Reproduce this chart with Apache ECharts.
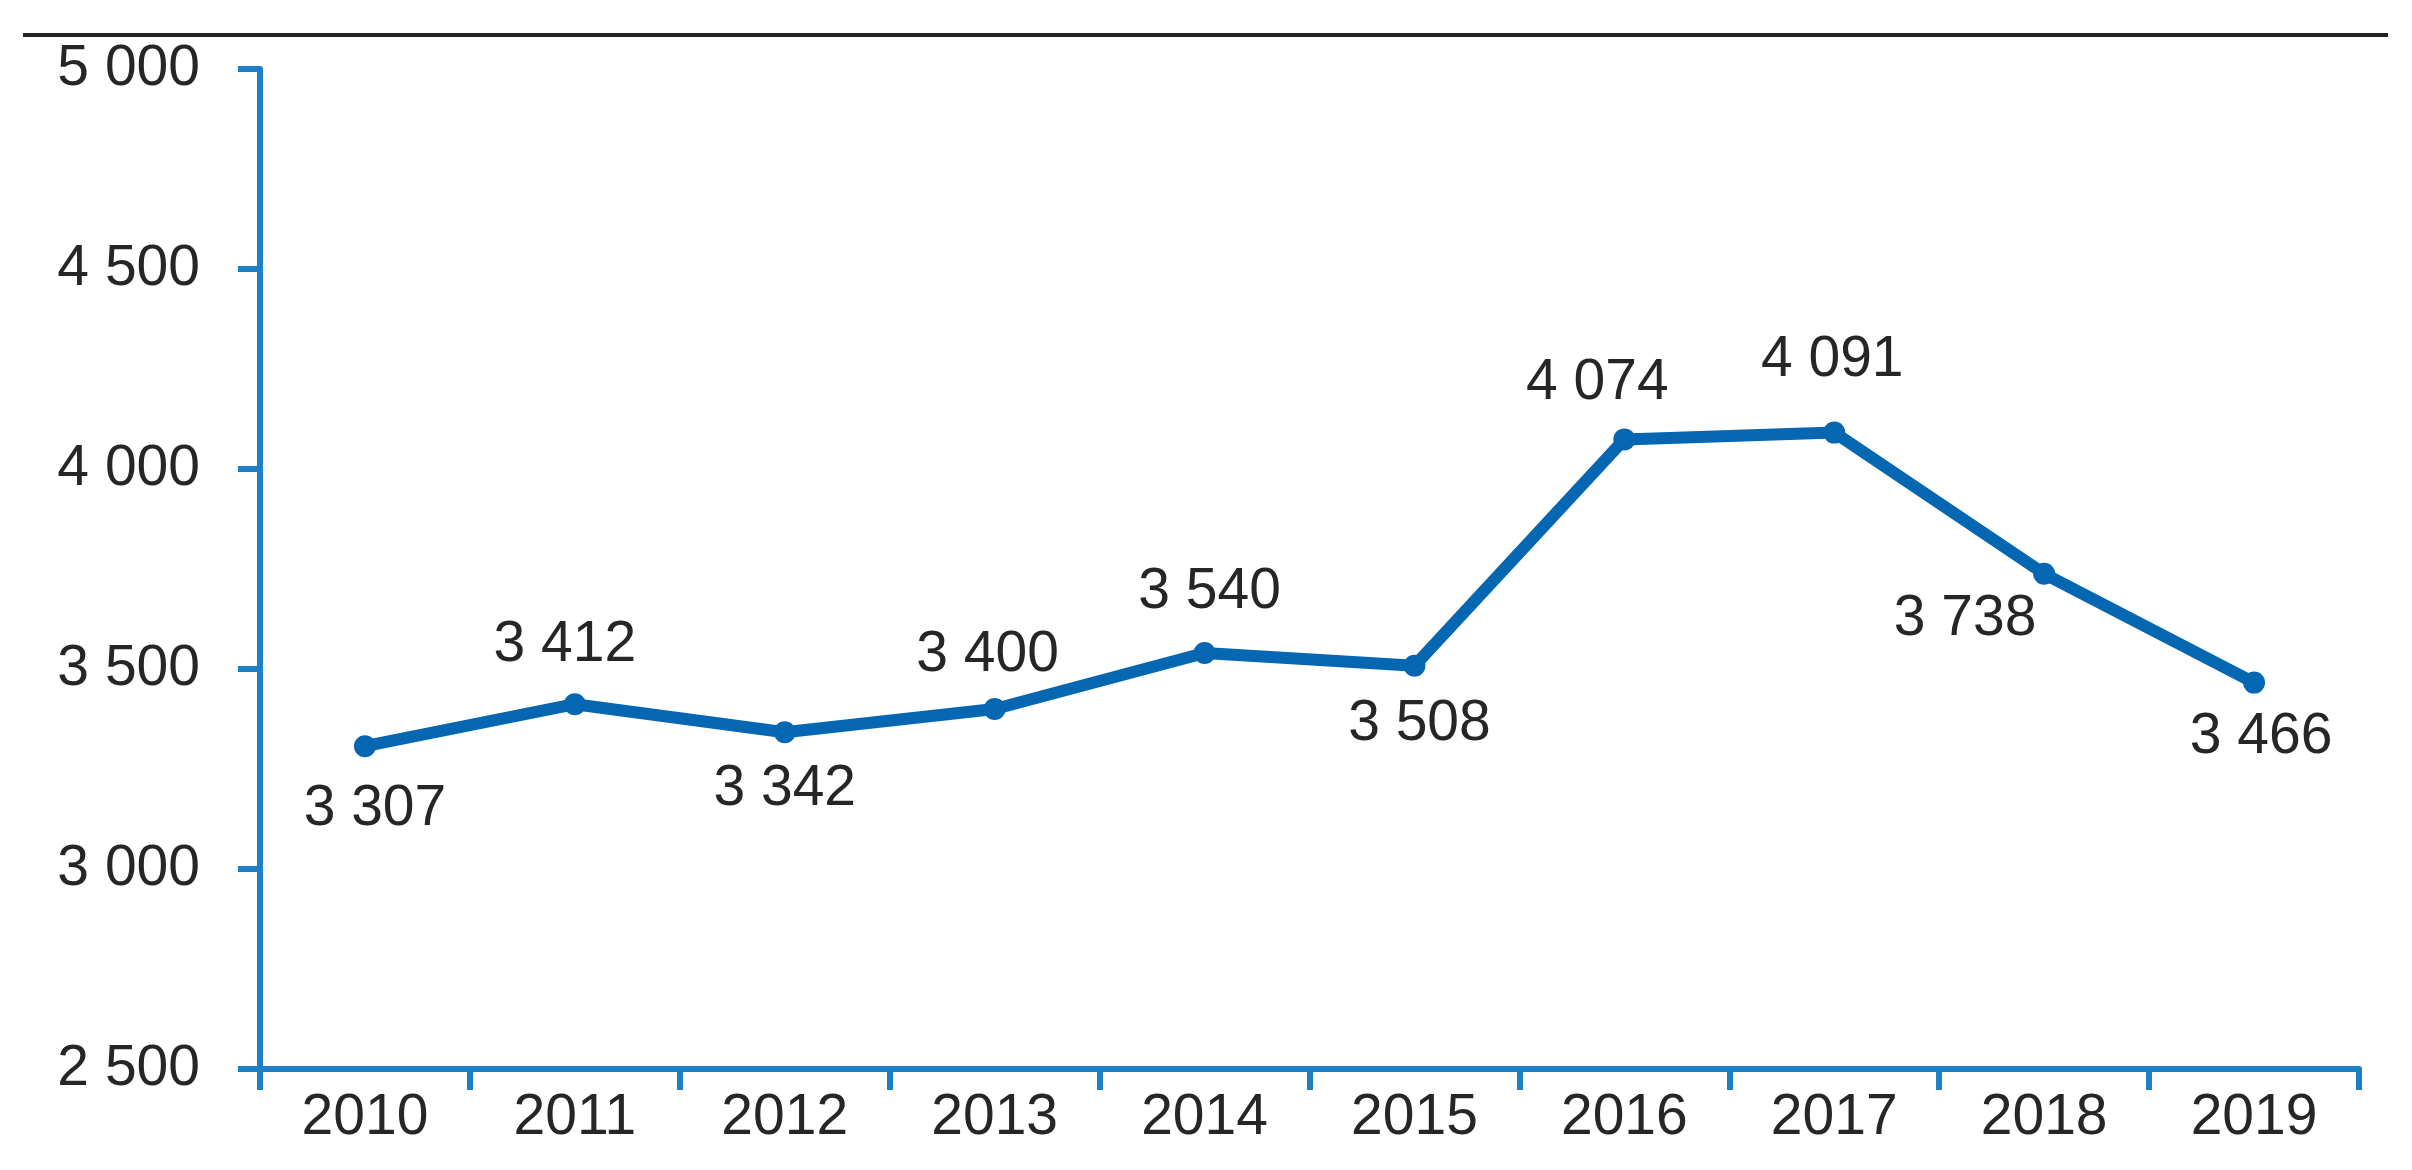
<!DOCTYPE html>
<html>
<head>
<meta charset="utf-8">
<script src="https://cdn.jsdelivr.net/npm/echarts@6/dist/echarts.min.js"></script>
<style>
html,body{margin:0;padding:0;background:#fff;}
#chart{width:2412px;height:1170px;}
</style>
</head>
<body>
<div id="chart"></div>
<script>
const years = ['2010','2011','2012','2013','2014','2015','2016','2017','2018','2019'];
const values = [3307, 3412, 3342, 3400, 3540, 3508, 4074, 4091, 3738, 3466];
const yTicks = {min: 2500, max: 5000, interval: 500};
// label placement relative to each point (style only)
const labelOffsets = [[10,63],[-10,-59],[0,57],[-7,-54],[5,-61],[5,58],[-27,-56],[-2,-72],[-79,45],[7,55]];

function fmt(v){ return String(v).replace(/\B(?=(\d{3})+(?!\d))/g, ' '); }

const chart = echarts.init(document.getElementById('chart'), null, {renderer:'canvas'});
const axisColor = '#1f7fc6';
const textColor = '#262626';
const font = '"Liberation Sans", Arial, sans-serif';
const fs = 57;

chart.setOption({
  backgroundColor: '#ffffff',
  animation: false,
  graphic: [{
    type: 'line',
    shape: {x1: 23, y1: 35, x2: 2388, y2: 35},
    style: {stroke: '#222222', lineWidth: 4}
  }],
  grid: {left: 260, right: 53, top: 69, bottom: 101, containLabel: false},
  xAxis: {
    type: 'category',
    data: years,
    boundaryGap: true,
    axisLine: {show: true, lineStyle: {color: axisColor, width: 6}},
    axisTick: {show: true, length: 21, lineStyle: {color: axisColor, width: 6}},
    axisLabel: {color: textColor, fontFamily: font, fontSize: fs, margin: 21},
    splitLine: {show: false}
  },
  yAxis: {
    type: 'value',
    min: yTicks.min, max: yTicks.max, interval: yTicks.interval,
    axisLine: {show: true, lineStyle: {color: axisColor, width: 6}},
    axisTick: {show: true, length: 22, lineStyle: {color: axisColor, width: 6}},
    axisLabel: {color: textColor, fontFamily: font, fontSize: fs, margin: 60, formatter: fmt},
    splitLine: {show: false}
  },
  series: [{
    type: 'line',
    data: values.map((v, i) => ({
      value: v,
      label: {show: true, position: 'inside', offset: labelOffsets[i]}
    })),
    symbol: 'circle',
    symbolSize: 22,
    lineStyle: {color: '#0567b2', width: 12},
    itemStyle: {color: '#0567b2'},
    label: {
      show: true,
      color: textColor,
      fontFamily: font,
      fontSize: fs,
      formatter: p => fmt(p.value)
    }
  }]
});
</script>
</body>
</html>
